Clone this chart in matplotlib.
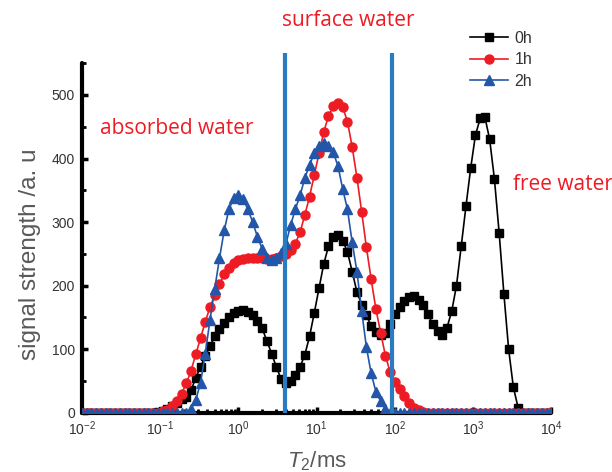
import numpy as np
import matplotlib
matplotlib.use("Agg")
import matplotlib.pyplot as plt
from matplotlib.ticker import MultipleLocator, LogLocator

plt.rcParams['font.family'] = ['Liberation Sans', 'DejaVu Sans']
plt.rcParams['mathtext.fontset'] = 'custom'
plt.rcParams['mathtext.rm'] = 'Liberation Sans'
plt.rcParams['mathtext.it'] = 'Liberation Sans:italic'

# T2 grid of the inversion: 100 points, 10^-2 .. 10^4 ms
t2 = np.logspace(-2, 4, 100)

# signal amplitude, one value per T2 point
sig_0h = [0] * 16 + [
    1, 3, 6, 10, 15, 21, 24, 35, 55, 72,
    89, 105, 120, 131, 141, 150, 157, 160, 162, 159,
    153, 145, 133, 113, 93, 72, 53, 47, 50, 60,
    72, 91, 120, 157, 196, 234, 262, 276, 279, 271,
    253, 222, 190, 170, 154, 136, 127, 122, 126, 140,
    155, 167, 176, 182, 183, 177, 169, 155, 139, 128,
    123, 134, 160, 200, 262, 325, 385, 437, 463, 465,
    430, 368, 283, 187, 100, 40, 8,
] + [0] * 7

sig_1h = [0] * 17 + [
    2, 5, 10, 18, 30, 46, 66, 92, 117, 143,
    166, 185, 202, 218, 228, 235, 240, 242, 244, 244,
    244, 243, 242, 242, 243, 246, 250, 256, 266, 284,
    311, 340, 374, 408, 442, 467, 483, 488, 481, 458,
    418, 370, 316, 260, 210, 163, 126, 90, 64, 49,
    38, 27, 16, 8, 4, 1,
] + [0] * 27

sig_2h = [0] * 23 + [
    6, 20, 47, 93, 146, 195, 243, 287, 320, 338,
    343, 336, 320, 300, 277, 258, 243, 240, 243, 252,
    265, 295, 320, 342, 369, 390, 408, 419, 424, 420,
    410, 388, 352, 320, 268, 222, 160, 103, 62, 33,
    18, 6,
] + [0] * 35

series = [
    ('0h', sig_0h, 'black', 's', 5.4),
    ('1h', sig_1h, '#ed1c24', 'o', 6.5),
    ('2h', sig_2h, '#2356a8', '^', 7),
]

# boundaries between water states (ms)
bounds = [3.9, 92]
x_ticks = [1e-2, 1e-1, 1e0, 1e1, 1e2, 1e3, 1e4]

fig = plt.figure(figsize=(6.12, 4.72), dpi=100)
ax = fig.add_axes([0.134, 0.1256, 0.7668, 0.7405])

for i, (name, vals, col, mk, ms) in enumerate(series):
    ax.plot(t2, vals, color=col, marker=mk, markersize=ms, linewidth=1.2,
            label=name, zorder=3 + i)

ax.vlines(bounds, 0, 566, colors='#2b7bc0', linewidth=3, clip_on=False, zorder=7)

ax.set_xscale('log')
ax.set_xlim(1e-2, 1e4)
ax.set_ylim(0, 550)
ax.set_xticks(x_ticks)
ax.set_yticks(np.arange(0, 501, 100))
ax.yaxis.set_minor_locator(MultipleLocator(50))
ax.xaxis.set_minor_locator(LogLocator(base=10, subs=np.arange(2, 10), numticks=20))

for s in ['top', 'right']:
    ax.spines[s].set_visible(False)
for s in ['left', 'bottom']:
    ax.spines[s].set_linewidth(3)
    ax.spines[s].set_capstyle('round')

ax.tick_params(which='major', direction='in', length=4, width=2.5, labelsize=10,
               labelcolor='#333333', pad=5)
ax.tick_params(which='minor', direction='in', length=3, width=2)

ax.set_xlabel(r'$T_2$/ms', fontsize=16, color='#595959')
ax.xaxis.set_label_coords(0.5, -0.104)
ax.set_ylabel('signal strength /a. u', fontsize=17.5, color='#595959')
ax.yaxis.set_label_coords(-0.088, 0.4527)

red = '#ed1c24'
fig.text(100 / 612, 1 - 128 / 472, 'absorbed water', color=red, fontsize=15,
         family='Open Sans', va='center', ha='left')
fig.text(282 / 612, 1 - 20 / 472, 'surface water', color=red, fontsize=15,
         family='Open Sans', va='center', ha='left')
fig.text(513 / 612, 1 - 184 / 472, 'free water', color=red, fontsize=15,
         family='Open Sans', va='center', ha='left')

leg = ax.legend(loc='upper left', bbox_to_anchor=(470 / 612, 1 - 31 / 472),
                bbox_transform=fig.transFigure, frameon=False, fontsize=11.5,
                handlelength=2.4, handletextpad=0.4, labelspacing=0.4,
                borderpad=0, borderaxespad=0)
for t in leg.get_texts():
    t.set_color('#333333')

fig.savefig('out.png', dpi=100)
